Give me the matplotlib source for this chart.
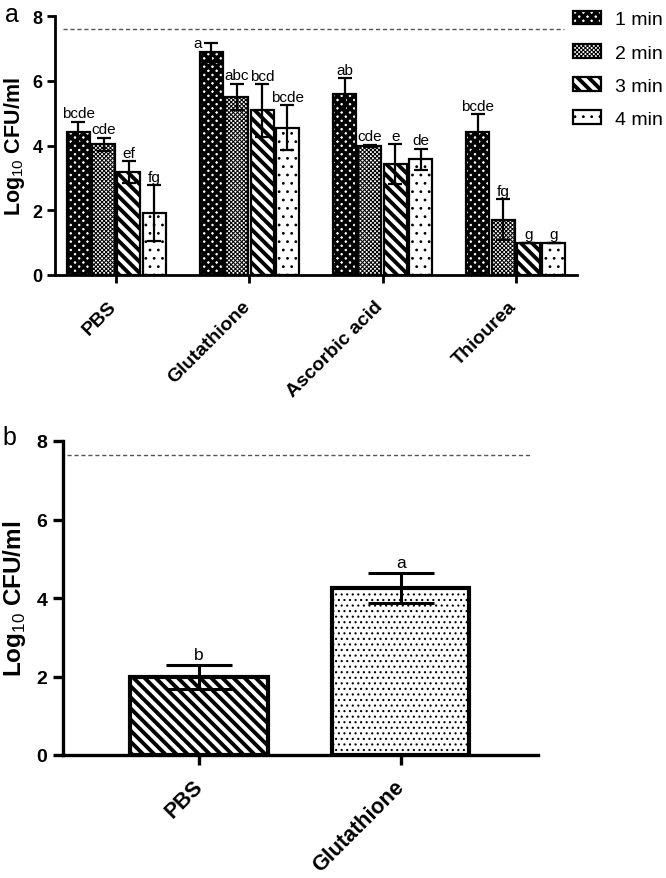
import numpy as np
import matplotlib
matplotlib.use("Agg")
import matplotlib.pyplot as plt
from matplotlib.transforms import ScaledTranslation

plt.rcParams['font.family'] = ['Liberation Sans', 'DejaVu Sans']
plt.rcParams['mathtext.fontset'] = 'custom'
plt.rcParams['mathtext.rm'] = 'Liberation Sans'
plt.rcParams['hatch.color'] = 'black'

# panel a data
groups = ['PBS', 'Glutathione', 'Ascorbic acid', 'Thiourea']
times = ['1 min', '2 min', '3 min', '4 min']
means_1 = [4.41, 6.89, 5.59, 4.41]
means_2 = [4.05, 5.51, 4.00, 1.71]
means_3 = [3.18, 5.09, 3.43, 1.00]
means_4 = [1.92, 4.56, 3.58, 1.00]
err_1 = [0.33, 0.29, 0.49, 0.57]
err_2 = [0.20, 0.40, 0.03, 0.63]
err_3 = [0.34, 0.81, 0.62, 0.0]
err_4 = [0.86, 0.70, 0.32, 0.0]
letters_1 = ['bcde', 'a', 'ab', 'bcde']
letters_2 = ['cde', 'abc', 'cde', 'fg']
letters_3 = ['ef', 'bcd', 'e', 'g']
letters_4 = ['fg', 'bcde', 'de', 'g']
limit_a = 7.62

# panel b data
groups_b = ['PBS', 'Glutathione']
means_b = [1.98, 4.25]
err_b = [0.31, 0.39]
letters_b = ['b', 'a']
limit_b = 7.64

W, H = 666, 879
fig = plt.figure(figsize=(W / 100, H / 100), dpi=100)

ax = fig.add_axes([55 / W, 1 - 276 / H, (577 - 55) / W, (276 - 17.3) / H])
axb = fig.add_axes([62.7 / W, 1 - 756 / H, (538 - 62.7) / W, (756 - 442) / H])

hatches = ['xxxx', 'xxxxxxxx', '\\\\\\', '..']
hatch_lw = [2.6, 0.75, 2.8, 0.8]
means = [means_1, means_2, means_3, means_4]
errs = [err_1, err_2, err_3, err_4]
letters = [letters_1, letters_2, letters_3, letters_4]

x = np.arange(len(groups))
step = 0.19
width = 0.172
for i in range(4):
    pos = x + (i - 1.5) * step
    with plt.rc_context({'hatch.linewidth': hatch_lw[i]}):
        bars = ax.bar(pos, means[i], width, color='white', edgecolor='black',
                      linewidth=1.6, hatch=hatches[i], label=times[i], zorder=2)
    for b in bars:
        if hasattr(b, 'set_hatch_linewidth'):
            b.set_hatch_linewidth(hatch_lw[i])
    ax.errorbar(pos, means[i], yerr=errs[i], fmt='none', ecolor='black',
                elinewidth=1.6, capsize=5, capthick=1.6, zorder=3)
    for j in range(len(groups)):
        top = means[i][j] + errs[i][j]
        if letters[i][j] == 'a' and j == 1:
            ax.annotate(letters[i][j], (pos[j] - width / 2, top), xytext=(1, 0),
                        textcoords='offset points', ha='right', va='center', fontsize=11)
        else:
            ax.annotate(letters[i][j], (pos[j], top), xytext=(0, 1),
                        textcoords='offset points', ha='center', va='bottom', fontsize=11)

ax.axhline(limit_a, xmin=0.015, xmax=0.975, color='#555555', lw=1.0,
           ls=(0, (3, 2)), zorder=1)
ax.set_xlim(-0.46, 3.46)
ax.set_ylim(0, 8)
ax.set_yticks([0, 2, 4, 6, 8])
ax.set_xticks(x)
ax.set_xticklabels(groups, rotation=45, ha='right', rotation_mode='anchor',
                   fontsize=14, fontweight='bold')
for t in ax.get_yticklabels():
    t.set_fontweight('bold')
    t.set_fontsize(13)
ax.set_ylabel('Log$_{\\mathrm{10}}$ CFU/ml', fontsize=15.5, fontweight='bold', labelpad=4)
ax.spines['top'].set_visible(False)
ax.spines['right'].set_visible(False)
ax.spines['left'].set_linewidth(2)
ax.spines['bottom'].set_linewidth(2)
ax.tick_params(direction='out', length=6, width=2, pad=3)
ax.tick_params(axis='x', pad=10)
for t in ax.get_xticklabels():
    t.set_transform(t.get_transform() + ScaledTranslation(-0.08, 0, fig.dpi_scale_trans))

leg = fig.legend(loc='upper left', bbox_to_anchor=(565 / W, 1 - 4 / H), frameon=False,
                 fontsize=14, handlelength=1.45, handleheight=0.7, labelspacing=0.8,
                 handletextpad=0.7, borderaxespad=0)
for h, lw in zip(leg.legend_handles, hatch_lw):
    if hasattr(h, 'set_hatch_linewidth'):
        h.set_hatch_linewidth(lw)

fig.text(5 / W, 1 - 3 / H, 'a', fontsize=18, va='top', ha='left')

# panel b
xb = np.arange(len(groups_b))
hatches_b = ['\\\\\\', '...']
hatch_lw_b = [2.8, 0.8]
for j in range(len(groups_b)):
    with plt.rc_context({'hatch.linewidth': hatch_lw_b[j]}):
        bars = axb.bar(xb[j], means_b[j], 0.68, color='white', edgecolor='black',
                       linewidth=3, hatch=hatches_b[j], zorder=2)
    for b in bars:
        if hasattr(b, 'set_hatch_linewidth'):
            b.set_hatch_linewidth(hatch_lw_b[j])
axb.errorbar(xb, means_b, yerr=err_b, fmt='none', ecolor='black', elinewidth=2.2,
             capsize=24, capthick=2.2, zorder=3)
for j in range(len(groups_b)):
    axb.annotate(letters_b[j], (xb[j], means_b[j] + err_b[j]), xytext=(0, 2),
                 textcoords='offset points', ha='center', va='bottom', fontsize=12.5)

axb.axhline(limit_b, xmin=0.01, xmax=0.985, color='#555555', lw=1.0,
            ls=(0, (3, 2)), zorder=1)
axb.set_xlim(-0.675, 1.68)
axb.set_ylim(0, 8)
axb.set_yticks([0, 2, 4, 6, 8])
axb.set_xticks(xb)
axb.set_xticklabels(groups_b, rotation=45, ha='right', rotation_mode='anchor',
                    fontsize=15.5, fontweight='bold')
for t in axb.get_yticklabels():
    t.set_fontweight('bold')
    t.set_fontsize(14)
axb.set_ylabel('Log$_{\\mathrm{10}}$ CFU/ml', fontsize=17.5, fontweight='bold', labelpad=6)
axb.spines['top'].set_visible(False)
axb.spines['right'].set_visible(False)
axb.spines['left'].set_linewidth(2.4)
axb.spines['bottom'].set_linewidth(2.4)
axb.tick_params(direction='out', length=7, width=2.4, pad=4)
axb.tick_params(axis='x', pad=8)
for t in axb.get_xticklabels():
    t.set_transform(t.get_transform() + ScaledTranslation(-0.07, 0, fig.dpi_scale_trans))

fig.text(2 / W, 1 - 426 / H, 'b', fontsize=18, va='top', ha='left')

fig.savefig('out.png', dpi=100)
